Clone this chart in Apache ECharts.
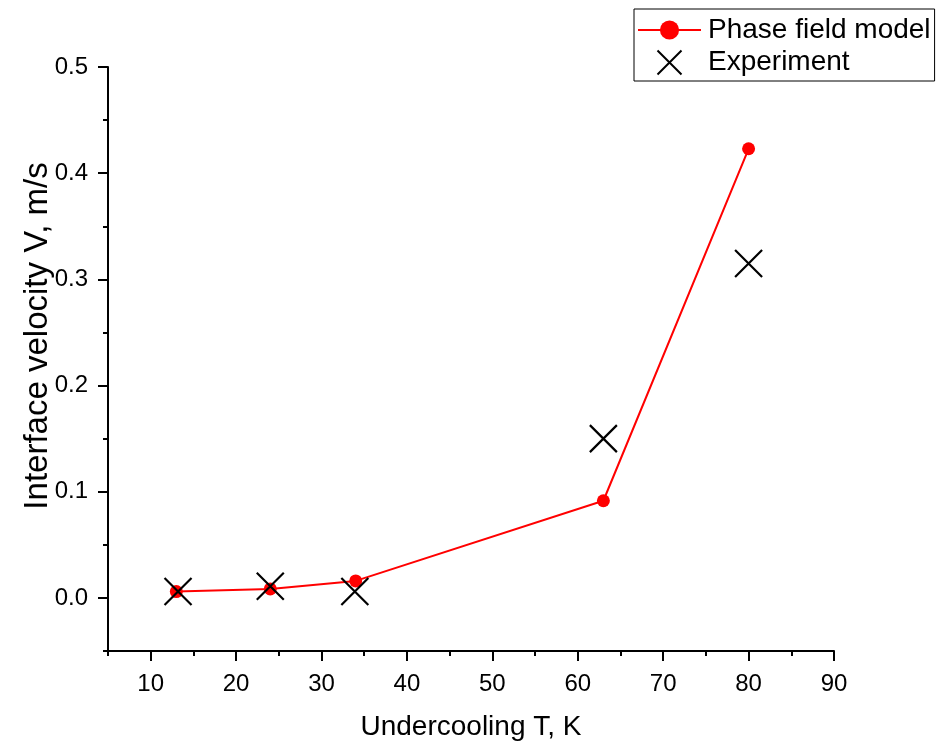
<!DOCTYPE html>
<html>
<head>
<meta charset="utf-8">
<script src="https://cdn.jsdelivr.net/npm/echarts@6/dist/echarts.min.js"></script>
<style>
  html, body { margin: 0; padding: 0; background: #fff; }
  #chart { width: 937px; height: 742px; }
</style>
</head>
<body>
<div id="chart"></div>
<script>
// values
var phaseX = [13, 24, 34, 63, 80];
var phaseV = [0.006, 0.0085, 0.016, 0.0915, 0.423];
var expX = [13.2, 24, 33.9, 63, 80];
var expV = [0.006, 0.011, 0.006, 0.150, 0.315];

var xMajor = [10, 20, 30, 40, 50, 60, 70, 80, 90];
var xMinor = [5, 15, 25, 35, 45, 55, 65, 75, 85];
var yMajor = [0, 0.1, 0.2, 0.3, 0.4, 0.5];
var yMinor = [-0.05, 0.05, 0.15, 0.25, 0.35, 0.45];

var FONT = "Liberation Sans, Arial, sans-serif";
var cross = "path://M0 0 L10 10 M10 0 L0 10";

function zip(xs, ys) {
  return xs.map(function (x, i) { return [x, ys[i]]; });
}

var tickStyle = { width: 2, color: "#000" };

var chart = echarts.init(document.getElementById("chart"), null, { renderer: "canvas" });
chart.setOption({
  animation: false,
  textStyle: { fontFamily: FONT },
  grid: { left: 108, right: 103, top: 67, bottom: 91, containLabel: false, outerBoundsMode: "none" },
  legend: {
    left: 634, top: 9,
    orient: "vertical",
    padding: [7, 4, 4, 3],
    borderColor: "#000", borderWidth: 1,
    itemWidth: 63, itemHeight: 24, itemGap: 4,
    textStyle: { fontSize: 28, lineHeight: 28, color: "#000", fontFamily: FONT, padding: [0, 0, 0, 2] },
    data: ["Phase field model", "Experiment"]
  },
  xAxis: [{
    type: "value", min: 5, max: 90,
    name: "Undercooling T, K", nameLocation: "middle", nameGap: 62, nameMoveOverlap: false,
    nameTextStyle: { fontSize: 28, color: "#000" },
    axisLine: { onZero: false, lineStyle: { color: "#000", width: 2 } },
    axisTick: { length: 10, lineStyle: tickStyle, customValues: xMajor },
    axisLabel: { customValues: xMajor, fontSize: 24, color: "#000", margin: 21 },
    splitLine: { show: false }
  }, {
    type: "value", min: 5, max: 90, position: "bottom",
    axisLine: { show: false, onZero: false },
    axisTick: { length: 5, lineStyle: tickStyle, customValues: xMinor },
    axisLabel: { show: false },
    splitLine: { show: false }
  }],
  yAxis: [{
    type: "value", min: -0.05, max: 0.5,
    name: "Interface velocity V, m/s", nameLocation: "middle", nameGap: 54, nameMoveOverlap: false,
    nameTextStyle: { fontSize: 33, color: "#000", padding: [0, 0, 0, 46] },
    axisLine: { show: true, onZero: false, lineStyle: { color: "#000", width: 2 } },
    axisTick: { show: true, length: 10, lineStyle: tickStyle, customValues: yMajor },
    axisLabel: { customValues: yMajor, fontSize: 24, color: "#000", margin: 20,
      formatter: function (v) { return v.toFixed(1); } },
    splitLine: { show: false }
  }, {
    type: "value", min: -0.05, max: 0.5, position: "left",
    axisLine: { show: false, onZero: false },
    axisTick: { show: true, length: 5, lineStyle: tickStyle, customValues: yMinor },
    axisLabel: { show: false },
    splitLine: { show: false }
  }],
  series: [{
    name: "Phase field model",
    type: "line",
    data: zip(phaseX, phaseV),
    symbol: "circle", symbolSize: 13,
    lineStyle: { color: "#ff0000", width: 2 },
    itemStyle: { color: "#ff0000" },
    z: 2
  }, {
    name: "Experiment",
    type: "scatter",
    data: zip(expX, expV),
    symbol: cross, symbolSize: 27,
    itemStyle: { color: "none", borderColor: "#000", borderWidth: 2.2, opacity: 1 },
    z: 3
  }]
});
</script>
</body>
</html>
